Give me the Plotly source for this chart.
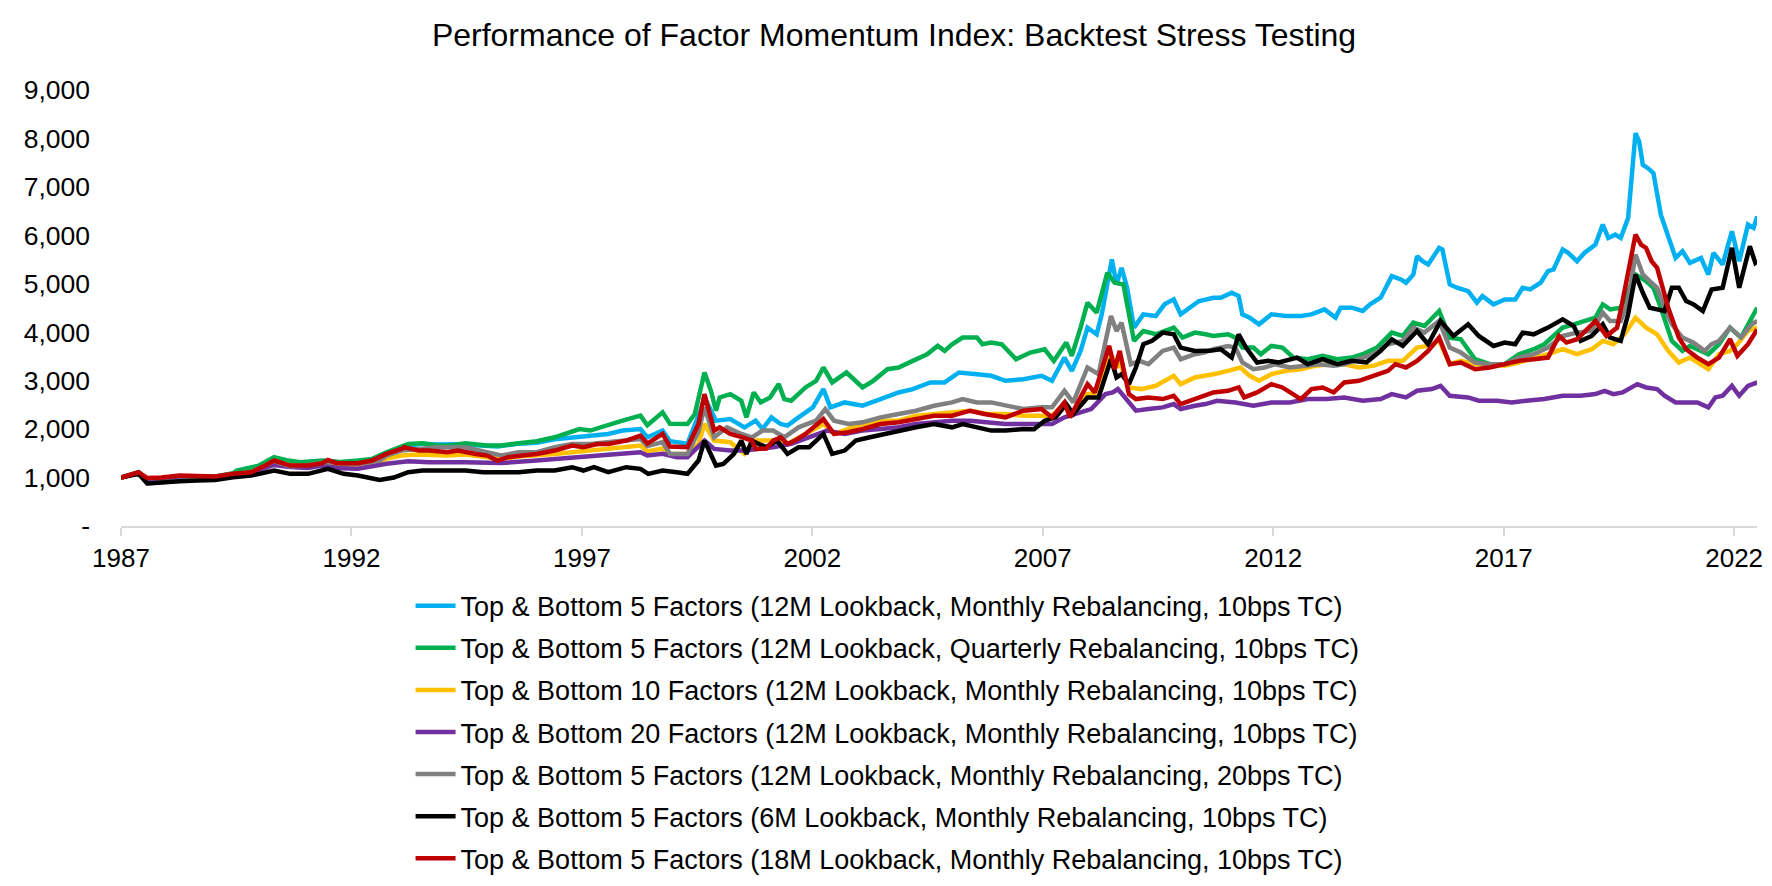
import pandas as pd
import plotly.graph_objects as go

# ---------------- data (decimal year, index value) ----------------
blue_t = [1987.00,1987.38,1987.57,1987.88,1988.27,1988.66,1989.04,1989.43,1989.82,1990.13,1990.32,1990.67,1991.06,1991.49,1991.76,1992.14,1992.61,1992.92,1993.15,1993.54,1993.85,1994.31,1994.86,1995.17,1995.63,1996.02,1996.41,1996.79,1997.03,1997.34,1997.57,1997.88,1998.27,1998.42,1998.75,1998.91,1999.29,1999.56,1999.66,1999.91,2000.22,2000.53,2000.77,2000.92,2001.11,2001.31,2001.46,2001.70,2002.01,2002.24,2002.39,2002.70,2003.09,2003.48,2003.87,2004.18,2004.56,2004.87,2005.18,2005.57,2005.88,2006.19,2006.58,2006.97,2007.20,2007.47,2007.63,2007.82,2007.97,2008.17,2008.28,2008.50,2008.60,2008.71,2008.83,2008.98,2009.18,2009.45,2009.64,2009.84,2009.99,2010.38,2010.70,2010.86,2011.10,2011.25,2011.33,2011.49,2011.69,2011.96,2012.28,2012.60,2012.83,2013.11,2013.35,2013.46,2013.70,2013.94,2014.10,2014.33,2014.57,2014.77,2014.88,2015.04,2015.12,2015.24,2015.36,2015.60,2015.67,2015.83,2015.99,2016.23,2016.42,2016.54,2016.78,2017.02,2017.25,2017.41,2017.57,2017.80,2017.96,2018.08,2018.28,2018.40,2018.59,2018.75,2018.99,2019.15,2019.27,2019.42,2019.54,2019.70,2019.86,2019.94,2020.02,2020.13,2020.25,2020.41,2020.57,2020.73,2020.88,2021.04,2021.28,2021.44,2021.55,2021.75,2021.95,2022.11,2022.30,2022.42,2022.50]
blue_v = [1000,1110,960,950,990,1010,1020,1080,1140,1280,1400,1320,1300,1330,1310,1330,1370,1570,1640,1700,1680,1690,1660,1640,1700,1720,1790,1830,1840,1880,1900,1970,2000,1830,1969,1750,1700,2350,2650,2174,2209,2037,2174,2003,2243,2106,2072,2243,2448,2826,2448,2551,2483,2620,2757,2826,2963,2963,3169,3134,3100,2997,3031,3100,2997,3477,3203,3614,4095,3958,4369,5501,4986,5330,4918,4095,4369,4335,4575,4678,4369,4640,4712,4712,4815,4746,4369,4301,4163,4369,4335,4335,4369,4472,4301,4506,4506,4438,4575,4712,5158,5089,5021,5192,5569,5466,5398,5741,5706,4986,4918,4849,4609,4746,4575,4678,4678,4918,4883,5021,5261,5295,5706,5637,5466,5637,5809,6221,5946,6015,5946,6358,8107,7936,7455,7386,7284,6427,5946,5535,5672,5432,5535,5192,5637,5398,6083,5466,6221,6152,6392]

green_t = [1987.00,1987.38,1987.57,1987.88,1988.27,1988.66,1989.04,1989.43,1989.51,1989.97,1990.32,1990.59,1990.90,1991.37,1991.76,1992.14,1992.45,1992.76,1993.00,1993.23,1993.54,1993.85,1994.16,1994.47,1994.94,1995.25,1995.63,1996.02,1996.41,1996.79,1996.95,1997.18,1997.57,1997.88,1998.27,1998.42,1998.75,1998.91,1999.29,1999.45,1999.66,1999.80,1999.91,1999.99,2000.22,2000.46,2000.57,2000.73,2000.88,2001.08,2001.27,2001.39,2001.54,2001.85,2002.08,2002.24,2002.43,2002.74,2003.09,2003.32,2003.63,2003.87,2004.18,2004.49,2004.72,2004.87,2005.03,2005.26,2005.57,2005.69,2005.88,2006.11,2006.42,2006.73,2007.04,2007.24,2007.51,2007.63,2007.82,2007.97,2008.17,2008.40,2008.56,2008.75,2008.98,2009.18,2009.45,2009.84,2010.03,2010.30,2010.53,2010.70,2011.02,2011.18,2011.33,2011.57,2011.73,2011.96,2012.20,2012.44,2012.75,2013.07,2013.39,2013.70,2013.94,2014.25,2014.57,2014.81,2015.04,2015.28,2015.60,2015.83,2016.07,2016.38,2016.70,2017.02,2017.33,2017.65,2017.88,2018.12,2018.28,2018.52,2018.75,2018.99,2019.15,2019.31,2019.54,2019.70,2019.86,2020.09,2020.25,2020.41,2020.65,2020.88,2021.04,2021.28,2021.44,2021.67,2021.91,2022.15,2022.38,2022.50]
green_v = [1000,1110,960,950,990,1010,1020,1090,1145,1240,1420,1360,1317,1350,1320,1351,1385,1523,1600,1694,1710,1660,1660,1707,1660,1660,1710,1750,1831,1934,2000,1970,2071,2174,2277,2080,2346,2110,2106,2312,3169,2791,2380,2654,2723,2586,2243,2757,2551,2654,2929,2620,2586,2860,2997,3272,2963,3169,2860,2997,3237,3272,3409,3546,3718,3615,3752,3889,3889,3752,3786,3752,3443,3580,3649,3409,3786,3512,4095,4609,4403,5227,5020,4986,3821,4026,3958,4095,3889,3992,3957,3923,3958,3889,3683,3683,3546,3717,3683,3477,3443,3512,3443,3477,3546,3683,3992,3923,4198,4129,4438,3889,3855,3443,3340,3340,3546,3649,3752,3957,4095,4163,4232,4301,4575,4472,4506,4849,5192,5055,4918,4506,3821,3615,3717,3615,3546,3752,4095,3889,4301,4506]

yellow_t = [1987.00,1987.38,1987.57,1987.88,1988.27,1988.66,1989.04,1989.43,1989.82,1990.13,1990.32,1990.67,1991.06,1991.49,1991.76,1992.14,1992.61,1992.76,1993.08,1993.46,1994.08,1994.47,1994.94,1995.25,1995.63,1996.02,1996.41,1996.79,1997.18,1997.57,1997.96,1998.27,1998.42,1998.75,1998.91,1999.29,1999.53,1999.66,1999.87,2000.22,2000.53,2000.77,2001.15,2001.46,2001.85,2002.24,2002.47,2002.78,2003.09,2003.48,2003.87,2004.25,2004.64,2005.03,2005.42,2005.80,2006.19,2006.58,2006.97,2007.20,2007.47,2007.63,2007.97,2008.21,2008.48,2008.60,2008.67,2008.87,2009.14,2009.45,2009.84,2009.99,2010.30,2010.53,2010.70,2011.02,2011.29,2011.49,2011.69,2011.96,2012.28,2012.60,2012.91,2013.23,2013.54,2013.86,2014.17,2014.49,2014.81,2015.12,2015.36,2015.60,2015.83,2016.07,2016.38,2016.70,2017.02,2017.33,2017.65,2017.96,2018.28,2018.59,2018.91,2019.15,2019.38,2019.62,2019.86,2020.09,2020.33,2020.57,2020.80,2021.04,2021.28,2021.44,2021.67,2021.91,2022.07,2022.30,2022.50]
yellow_v = [1000,1100,960,950,990,1005,1015,1070,1110,1240,1340,1250,1240,1300,1250,1248,1330,1385,1454,1475,1454,1475,1434,1385,1434,1454,1488,1523,1557,1591,1626,1660,1540,1600,1490,1488,1700,2106,1763,1729,1488,1763,1763,1694,1900,2106,1900,2003,2106,2174,2174,2277,2312,2346,2380,2312,2312,2277,2277,2277,2517,2312,2723,2757,3546,3272,3374,2860,2826,2894,3100,2929,3066,3100,3134,3203,3271,3100,2997,3134,3203,3237,3306,3340,3340,3271,3306,3409,3409,3683,3717,3820,3340,3409,3340,3340,3306,3375,3477,3546,3649,3546,3649,3820,3752,3957,4301,4095,3957,3615,3375,3477,3340,3237,3546,3615,3752,4026,4100]

purple_t = [1987.00,1987.38,1987.57,1987.88,1988.27,1988.66,1989.04,1989.43,1989.82,1990.13,1990.32,1990.67,1991.06,1991.37,1991.76,1992.14,1992.76,1993.23,1993.69,1994.47,1995.25,1996.02,1996.79,1997.57,1998.27,1998.42,1998.75,1999.06,1999.29,1999.66,1999.87,2000.22,2000.53,2001.15,2001.54,2001.93,2002.32,2002.70,2003.09,2003.48,2003.87,2004.25,2004.64,2005.03,2005.42,2005.80,2006.19,2006.58,2006.97,2007.20,2007.47,2007.74,2008.05,2008.36,2008.52,2008.63,2008.83,2009.02,2009.29,2009.60,2009.84,2009.99,2010.30,2010.53,2010.78,2011.18,2011.57,2011.96,2012.36,2012.75,2013.15,2013.54,2013.94,2014.33,2014.57,2014.88,2015.12,2015.44,2015.63,2015.83,2016.23,2016.46,2016.86,2017.17,2017.49,2017.88,2018.28,2018.67,2018.99,2019.19,2019.38,2019.58,2019.90,2020.09,2020.33,2020.49,2020.73,2020.96,2021.20,2021.44,2021.59,2021.75,2021.95,2022.11,2022.30,2022.50]
purple_v = [1000,1100,960,950,985,1000,1010,1060,1100,1200,1260,1220,1200,1248,1190,1180,1283,1337,1317,1317,1300,1351,1420,1470,1523,1454,1490,1420,1420,1763,1591,1557,1557,1626,1694,1831,1969,1900,1969,2003,2037,2106,2140,2174,2174,2140,2106,2106,2106,2106,2243,2312,2414,2723,2757,2826,2586,2380,2414,2448,2517,2414,2483,2517,2586,2551,2483,2551,2551,2620,2620,2654,2586,2620,2723,2654,2791,2826,2894,2689,2654,2586,2586,2551,2586,2620,2689,2689,2723,2791,2723,2757,2928,2860,2826,2689,2551,2551,2551,2448,2654,2689,2894,2689,2894,2963]

grey_t = [1987.00,1987.38,1987.57,1987.88,1988.27,1988.66,1989.04,1989.43,1989.82,1990.13,1990.32,1990.67,1991.06,1991.49,1991.76,1992.14,1992.61,1992.76,1993.08,1993.46,1993.85,1994.47,1994.94,1995.25,1995.63,1996.02,1996.41,1996.79,1997.18,1997.57,1997.96,1998.27,1998.42,1998.75,1998.91,1999.29,1999.53,1999.66,1999.87,2000.15,2000.46,2000.69,2000.92,2001.15,2001.39,2001.70,2002.08,2002.28,2002.47,2002.78,2003.09,2003.48,2003.87,2004.25,2004.64,2005.03,2005.26,2005.57,2005.88,2006.19,2006.58,2006.97,2007.20,2007.47,2007.66,2007.97,2008.21,2008.48,2008.60,2008.71,2008.91,2009.10,2009.29,2009.60,2009.84,2009.99,2010.30,2010.50,2010.70,2011.02,2011.18,2011.33,2011.57,2011.81,2012.04,2012.36,2012.68,2012.99,2013.31,2013.54,2013.86,2014.17,2014.49,2014.81,2015.04,2015.28,2015.60,2015.83,2016.07,2016.38,2016.70,2017.02,2017.33,2017.65,2017.96,2018.28,2018.59,2018.91,2019.15,2019.31,2019.54,2019.70,2019.86,2020.02,2020.17,2020.33,2020.49,2020.65,2020.88,2021.12,2021.36,2021.51,2021.67,2021.91,2022.15,2022.38,2022.50]
grey_v = [1000,1100,880,900,930,950,990,1070,1110,1250,1340,1230,1260,1320,1290,1280,1350,1454,1557,1591,1626,1626,1520,1454,1520,1523,1626,1694,1694,1726,1760,1797,1650,1730,1488,1488,1950,2448,1831,2037,1900,1831,1969,1969,1831,2037,2174,2414,2174,2106,2140,2243,2312,2380,2483,2551,2620,2551,2551,2483,2414,2449,2449,2791,2551,3272,3134,4334,4026,4197,3340,3409,3340,3614,3683,3443,3546,3580,3650,3717,3683,3375,3237,3271,3340,3271,3306,3340,3306,3340,3443,3546,3752,3820,4095,3992,4232,3683,3580,3375,3340,3340,3477,3546,3683,3923,3992,4026,4404,4232,4232,4643,5604,5192,5055,4918,4506,4163,3889,3786,3615,3752,3820,4095,3889,4163,4232]

black_t = [1987.00,1987.38,1987.57,1987.88,1988.27,1988.66,1989.04,1989.43,1989.82,1990.32,1990.67,1991.06,1991.49,1991.83,1992.14,1992.61,1992.92,1993.23,1993.54,1993.85,1994.47,1994.86,1995.25,1995.63,1996.02,1996.41,1996.79,1997.03,1997.26,1997.57,1997.96,1998.27,1998.44,1998.75,1999.06,1999.29,1999.53,1999.66,1999.91,2000.07,2000.30,2000.46,2000.57,2000.69,2000.84,2001.00,2001.23,2001.46,2001.70,2001.93,2002.24,2002.43,2002.70,2002.94,2003.25,2003.56,2003.87,2004.25,2004.64,2005.03,2005.26,2005.57,2005.88,2006.19,2006.58,2006.81,2007.04,2007.28,2007.51,2007.66,2007.97,2008.21,2008.48,2008.60,2008.71,2008.87,2009.02,2009.18,2009.37,2009.60,2009.84,2009.99,2010.30,2010.62,2010.86,2011.10,2011.25,2011.41,2011.65,2011.89,2012.12,2012.52,2012.75,2013.07,2013.39,2013.70,2014.02,2014.33,2014.57,2014.81,2015.12,2015.36,2015.63,2015.91,2016.23,2016.46,2016.78,2017.02,2017.25,2017.41,2017.65,2017.96,2018.28,2018.52,2018.67,2018.91,2019.15,2019.31,2019.54,2019.70,2019.86,2020.02,2020.17,2020.33,2020.49,2020.65,2020.80,2020.96,2021.12,2021.32,2021.51,2021.75,2021.95,2022.11,2022.34,2022.46,2022.50]
black_v = [1000,1080,880,890,926,940,950,1008,1040,1145,1077,1077,1180,1077,1043,950,1000,1111,1145,1145,1145,1111,1111,1111,1145,1145,1214,1145,1214,1111,1214,1180,1077,1146,1111,1077,1351,1763,1248,1283,1488,1763,1488,1763,1694,1626,1763,1488,1626,1626,1900,1488,1557,1763,1831,1900,1969,2037,2106,2037,2106,2037,1969,1969,2003,1999,2174,2243,2517,2311,2654,2654,3443,3066,3134,2929,3272,3752,3821,3992,3958,3683,3614,3615,3650,3477,3957,3683,3375,3409,3375,3477,3340,3443,3340,3409,3375,3615,3855,3717,4026,3752,4232,3923,4163,3923,3717,3786,3752,3992,3957,4095,4266,4129,3821,3923,4163,3889,3821,4369,5192,4815,4506,4472,4438,4918,4918,4643,4575,4438,4883,4918,5741,4918,5775,5432,5460]

red_t = [1987.00,1987.38,1987.57,1987.88,1988.27,1988.66,1989.04,1989.43,1989.82,1990.13,1990.32,1990.67,1991.06,1991.37,1991.49,1991.68,1992.14,1992.45,1992.76,1993.08,1993.15,1993.46,1993.69,1994.08,1994.31,1994.70,1994.94,1995.17,1995.40,1995.71,1996.02,1996.41,1996.79,1997.03,1997.34,1997.57,1997.96,1998.27,1998.42,1998.75,1998.91,1999.29,1999.53,1999.66,1999.87,1999.99,2000.22,2000.49,2000.69,2000.77,2001.00,2001.15,2001.31,2001.46,2001.62,2001.85,2002.24,2002.47,2002.78,2003.09,2003.48,2003.87,2004.25,2004.64,2005.03,2005.42,2005.73,2006.19,2006.58,2006.97,2007.20,2007.47,2007.59,2007.97,2008.13,2008.44,2008.56,2008.67,2008.87,2009.02,2009.29,2009.60,2009.84,2009.99,2010.20,2010.49,2010.70,2011.02,2011.25,2011.37,2011.65,2011.96,2012.20,2012.60,2012.83,2013.07,2013.31,2013.54,2013.86,2014.17,2014.49,2014.65,2014.88,2015.12,2015.36,2015.60,2015.83,2016.07,2016.38,2016.70,2017.02,2017.33,2017.65,2017.96,2018.20,2018.36,2018.59,2018.83,2018.99,2019.23,2019.46,2019.58,2019.86,2019.98,2020.09,2020.21,2020.33,2020.57,2020.80,2020.96,2021.20,2021.44,2021.67,2021.91,2022.07,2022.30,2022.46,2022.50]
red_v = [1000,1110,990,1000,1040,1040,1022,1077,1110,1248,1351,1248,1248,1296,1365,1296,1296,1351,1488,1591,1626,1557,1557,1523,1557,1488,1454,1351,1420,1454,1488,1557,1660,1626,1694,1694,1763,1866,1700,1900,1640,1625,2106,2723,1969,2037,1900,1831,1763,1591,1600,1763,1831,1694,1763,1900,2209,1900,1934,2003,2106,2140,2209,2277,2277,2380,2312,2243,2380,2414,2243,2551,2243,2929,2757,3718,3237,3614,2723,2620,2654,2620,2689,2517,2586,2689,2757,2791,2860,2654,2757,2929,2860,2620,2826,2860,2757,2963,2997,3100,3203,3340,3272,3409,3615,3889,3340,3375,3237,3272,3340,3409,3443,3477,3923,3786,3855,4095,4232,3923,4095,4643,6015,5809,5740,5466,5330,4506,3889,3649,3477,3340,3477,3855,3512,3752,4026,4060]

series_names = [
    "Top & Bottom 5 Factors (12M Lookback, Monthly Rebalancing, 10bps TC)",
    "Top & Bottom 5 Factors (12M Lookback, Quarterly Rebalancing, 10bps TC)",
    "Top & Bottom 10 Factors (12M Lookback, Monthly Rebalancing, 10bps TC)",
    "Top & Bottom 20 Factors (12M Lookback, Monthly Rebalancing, 10bps TC)",
    "Top & Bottom 5 Factors (12M Lookback, Monthly Rebalancing, 20bps TC)",
    "Top & Bottom 5 Factors (6M Lookback, Monthly Rebalancing, 10bps TC)",
    "Top & Bottom 5 Factors (18M Lookback, Monthly Rebalancing, 10bps TC)",
]
series_colors = ["#00B0F0", "#00B050", "#FFC000", "#7030A0", "#808080", "#000000", "#C00000"]
series_data = [(blue_t, blue_v), (green_t, green_v), (yellow_t, yellow_v), (purple_t, purple_v),
               (grey_t, grey_v), (black_t, black_v), (red_t, red_v)]

x_tick_years = [1987, 1992, 1997, 2002, 2007, 2012, 2017, 2022]
y_tick_values = [0, 1000, 2000, 3000, 4000, 5000, 6000, 7000, 8000, 9000]
y_tick_labels = ["-", "1,000", "2,000", "3,000", "4,000", "5,000", "6,000", "7,000", "8,000", "9,000"]


def to_dates(years):
    return [pd.Timestamp(int(y), 1, 1) + pd.Timedelta(days=(y - int(y)) * 365.25) for y in years]


FONT = "Liberation Sans, Arial, sans-serif"
fig = go.Figure()
for i, (name, color, (t, v)) in enumerate(zip(series_names, series_colors, series_data)):
    fig.add_trace(go.Scatter(
        x=to_dates(t), y=v, name=name, mode="lines",
        line=dict(color=color, width=4.5), legendgroup=f"g{i}",
    ))

fig.update_layout(
    width=1772, height=886,
    paper_bgcolor="white", plot_bgcolor="white",
    margin=dict(l=113, r=23, t=82, b=367),
    font=dict(family=FONT, size=26, color="#000000"),
    title=dict(text="Performance of Factor Momentum Index: Backtest Stress Testing",
               x=0.5, xref="container", xanchor="center",
               y=1 - 27 / 886, yref="container", yanchor="middle",
               font=dict(family=FONT, size=32, color="#000000")),
    showlegend=True,
    legend=dict(orientation="v", x=0.177, xanchor="left", y=-0.125, yanchor="top",
                font=dict(family=FONT, size=27, color="#000000"),
                tracegroupgap=4, itemwidth=40, bgcolor="rgba(0,0,0,0)"),
)
fig.update_xaxes(
    type="date",
    range=["1987-01-01", "2022-07-01"],
    tickvals=[pd.Timestamp(y, 1, 1) for y in x_tick_years],
    ticktext=[str(y) for y in x_tick_years],
    showgrid=False, zeroline=False,
    showline=True, linecolor="#D9D9D9", linewidth=1.5,
    ticks="outside", ticklen=8, tickcolor="#D9D9D9", tickwidth=1.5,
    tickfont=dict(family=FONT, size=26, color="#000000"),
)
fig.update_yaxes(
    range=[0, 9000],
    tickvals=y_tick_values, ticktext=y_tick_labels,
    showgrid=False, zeroline=False, showline=False,
    ticks="", ticklabelstandoff=30,
    tickfont=dict(family=FONT, size=26.5, color="#000000"),
)

fig.write_html("out.html")
